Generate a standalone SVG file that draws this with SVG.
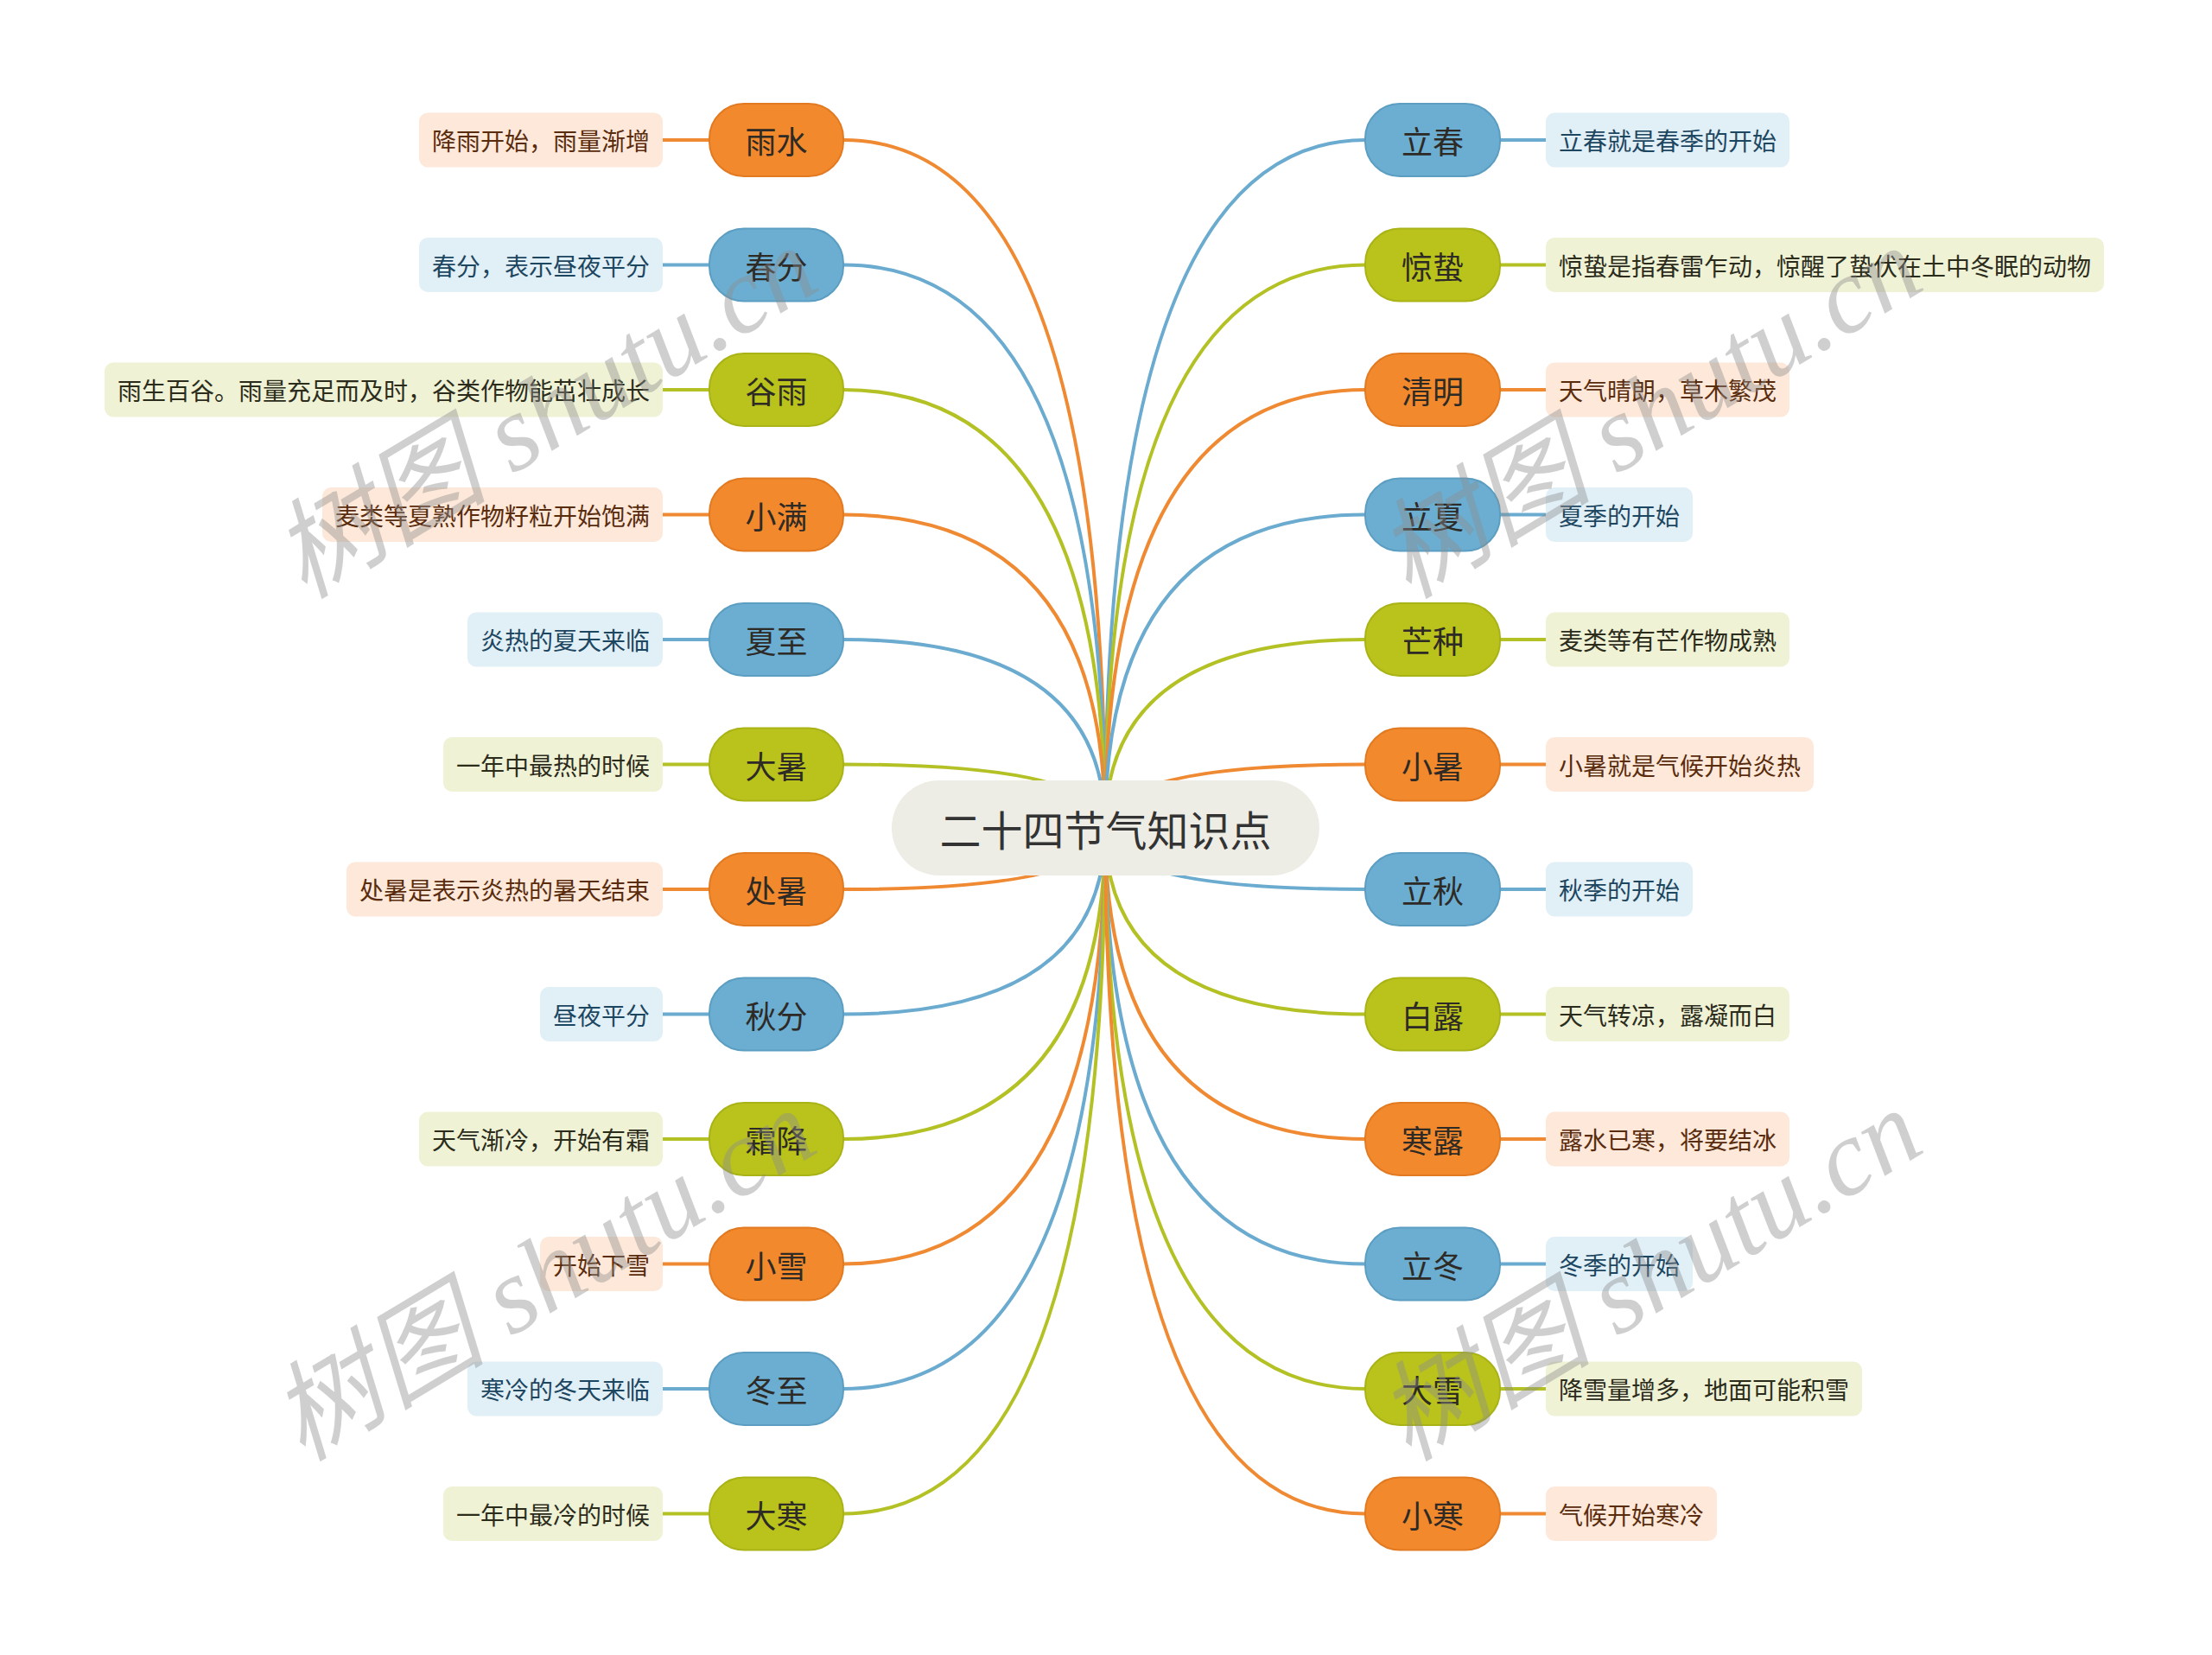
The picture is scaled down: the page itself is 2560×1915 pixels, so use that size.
<svg xmlns="http://www.w3.org/2000/svg" width="2560" height="1915" viewBox="0 0 2560 1915">
<style>
text{font-family:"Noto Sans CJK SC","Noto Sans",sans-serif;text-anchor:middle;dominant-baseline:central}
.c{fill:none;stroke-width:4}
.co{stroke:#EF8A33}.cb{stroke:#6AABCF}.cg{stroke:#B3C125}
.no{fill:#F2892C;stroke:#E27A22;stroke-width:2}
.nb{fill:#6BAED1;stroke:#5C9EC2;stroke-width:2}
.ng{fill:#B9C31C;stroke:#A9B316;stroke-width:2}
.nt{font-size:36px;fill:#2E2A26}
.lo{fill:#FDE8D9}.lb{fill:#E1EFF7}.lg{fill:#EFF2D4}
.lt{font-size:28px}
.to{fill:#5A2C0E}.tb{fill:#1D4660}.tg{fill:#2C2C1C}
.wm{font-family:"Liberation Serif","Noto Sans CJK SC",serif;font-style:italic;font-size:125px;fill:#8c8c8c;fill-opacity:0.42;text-anchor:start;dominant-baseline:alphabetic}
</style>
<rect width="2560" height="1915" fill="#ffffff"/>
<g id="connectors">
<path class="c co" d="M1279,958 Q1279,162 976,162"/>
<path class="c cb" d="M1279,958 Q1279,306.5 976,306.5"/>
<path class="c cg" d="M1279,958 Q1279,451 976,451"/>
<path class="c co" d="M1279,958 Q1279,595.5 976,595.5"/>
<path class="c cb" d="M1279,958 Q1279,740 976,740"/>
<path class="c cg" d="M1279,958 Q1279,884.5 976,884.5"/>
<path class="c co" d="M1279,958 Q1279,1029 976,1029"/>
<path class="c cb" d="M1279,958 Q1279,1173.5 976,1173.5"/>
<path class="c cg" d="M1279,958 Q1279,1318 976,1318"/>
<path class="c co" d="M1279,958 Q1279,1462.5 976,1462.5"/>
<path class="c cb" d="M1279,958 Q1279,1607 976,1607"/>
<path class="c cg" d="M1279,958 Q1279,1751.5 976,1751.5"/>
<path class="c cb" d="M1279,958 Q1279,162 1580,162"/>
<path class="c cg" d="M1279,958 Q1279,306.5 1580,306.5"/>
<path class="c co" d="M1279,958 Q1279,451 1580,451"/>
<path class="c cb" d="M1279,958 Q1279,595.5 1580,595.5"/>
<path class="c cg" d="M1279,958 Q1279,740 1580,740"/>
<path class="c co" d="M1279,958 Q1279,884.5 1580,884.5"/>
<path class="c cb" d="M1279,958 Q1279,1029 1580,1029"/>
<path class="c cg" d="M1279,958 Q1279,1173.5 1580,1173.5"/>
<path class="c co" d="M1279,958 Q1279,1318 1580,1318"/>
<path class="c cb" d="M1279,958 Q1279,1462.5 1580,1462.5"/>
<path class="c cg" d="M1279,958 Q1279,1607 1580,1607"/>
<path class="c co" d="M1279,958 Q1279,1751.5 1580,1751.5"/>
<path class="c co" d="M767,162H821"/>
<path class="c cb" d="M767,306.5H821"/>
<path class="c cg" d="M767,451H821"/>
<path class="c co" d="M767,595.5H821"/>
<path class="c cb" d="M767,740H821"/>
<path class="c cg" d="M767,884.5H821"/>
<path class="c co" d="M767,1029H821"/>
<path class="c cb" d="M767,1173.5H821"/>
<path class="c cg" d="M767,1318H821"/>
<path class="c co" d="M767,1462.5H821"/>
<path class="c cb" d="M767,1607H821"/>
<path class="c cg" d="M767,1751.5H821"/>
<path class="c cb" d="M1736,162H1789"/>
<path class="c cg" d="M1736,306.5H1789"/>
<path class="c co" d="M1736,451H1789"/>
<path class="c cb" d="M1736,595.5H1789"/>
<path class="c cg" d="M1736,740H1789"/>
<path class="c co" d="M1736,884.5H1789"/>
<path class="c cb" d="M1736,1029H1789"/>
<path class="c cg" d="M1736,1173.5H1789"/>
<path class="c co" d="M1736,1318H1789"/>
<path class="c cb" d="M1736,1462.5H1789"/>
<path class="c cg" d="M1736,1607H1789"/>
<path class="c co" d="M1736,1751.5H1789"/>
</g>
<g id="root">
<rect x="1032" y="903" width="495" height="110" rx="55" fill="#EDEDE5"/>
<text x="1279.5" y="958" font-size="48" fill="#333333">二十四节气知识点</text>
</g>
<g id="n-yushui"><rect class="no" x="821" y="120" width="155" height="84" rx="40"/><text class="nt" x="898.5" y="162">雨水</text></g>
<g id="n-chunfen"><rect class="nb" x="821" y="264.5" width="155" height="84" rx="40"/><text class="nt" x="898.5" y="306.5">春分</text></g>
<g id="n-guyu"><rect class="ng" x="821" y="409" width="155" height="84" rx="40"/><text class="nt" x="898.5" y="451">谷雨</text></g>
<g id="n-xiaoman"><rect class="no" x="821" y="553.5" width="155" height="84" rx="40"/><text class="nt" x="898.5" y="595.5">小满</text></g>
<g id="n-xiazhi"><rect class="nb" x="821" y="698" width="155" height="84" rx="40"/><text class="nt" x="898.5" y="740">夏至</text></g>
<g id="n-dashu"><rect class="ng" x="821" y="842.5" width="155" height="84" rx="40"/><text class="nt" x="898.5" y="884.5">大暑</text></g>
<g id="n-chushu"><rect class="no" x="821" y="987" width="155" height="84" rx="40"/><text class="nt" x="898.5" y="1029">处暑</text></g>
<g id="n-qiufen"><rect class="nb" x="821" y="1131.5" width="155" height="84" rx="40"/><text class="nt" x="898.5" y="1173.5">秋分</text></g>
<g id="n-shuangjiang"><rect class="ng" x="821" y="1276" width="155" height="84" rx="40"/><text class="nt" x="898.5" y="1318">霜降</text></g>
<g id="n-xiaoxue"><rect class="no" x="821" y="1420.5" width="155" height="84" rx="40"/><text class="nt" x="898.5" y="1462.5">小雪</text></g>
<g id="n-dongzhi"><rect class="nb" x="821" y="1565" width="155" height="84" rx="40"/><text class="nt" x="898.5" y="1607">冬至</text></g>
<g id="n-dahan"><rect class="ng" x="821" y="1709.5" width="155" height="84" rx="40"/><text class="nt" x="898.5" y="1751.5">大寒</text></g>
<g id="n-lichun"><rect class="nb" x="1580" y="120" width="156" height="84" rx="40"/><text class="nt" x="1658" y="162">立春</text></g>
<g id="n-jingzhe"><rect class="ng" x="1580" y="264.5" width="156" height="84" rx="40"/><text class="nt" x="1658" y="306.5">惊蛰</text></g>
<g id="n-qingming"><rect class="no" x="1580" y="409" width="156" height="84" rx="40"/><text class="nt" x="1658" y="451">清明</text></g>
<g id="n-lixia"><rect class="nb" x="1580" y="553.5" width="156" height="84" rx="40"/><text class="nt" x="1658" y="595.5">立夏</text></g>
<g id="n-mangzhong"><rect class="ng" x="1580" y="698" width="156" height="84" rx="40"/><text class="nt" x="1658" y="740">芒种</text></g>
<g id="n-xiaoshu"><rect class="no" x="1580" y="842.5" width="156" height="84" rx="40"/><text class="nt" x="1658" y="884.5">小暑</text></g>
<g id="n-liqiu"><rect class="nb" x="1580" y="987" width="156" height="84" rx="40"/><text class="nt" x="1658" y="1029">立秋</text></g>
<g id="n-bailu"><rect class="ng" x="1580" y="1131.5" width="156" height="84" rx="40"/><text class="nt" x="1658" y="1173.5">白露</text></g>
<g id="n-hanlu"><rect class="no" x="1580" y="1276" width="156" height="84" rx="40"/><text class="nt" x="1658" y="1318">寒露</text></g>
<g id="n-lidong"><rect class="nb" x="1580" y="1420.5" width="156" height="84" rx="40"/><text class="nt" x="1658" y="1462.5">立冬</text></g>
<g id="n-daxue"><rect class="ng" x="1580" y="1565" width="156" height="84" rx="40"/><text class="nt" x="1658" y="1607">大雪</text></g>
<g id="n-xiaohan"><rect class="no" x="1580" y="1709.5" width="156" height="84" rx="40"/><text class="nt" x="1658" y="1751.5">小寒</text></g>
<g id="l-yushui"><rect class="lo" x="485" y="130.5" width="282" height="63" rx="10"/><text class="lt to" x="626" y="162">降雨开始，雨量渐增</text></g>
<g id="l-chunfen"><rect class="lb" x="485" y="275" width="282" height="63" rx="10"/><text class="lt tb" x="626" y="306.5">春分，表示昼夜平分</text></g>
<g id="l-guyu"><rect class="lg" x="121" y="419.5" width="646" height="63" rx="10"/><text class="lt tg" x="444" y="451">雨生百谷。雨量充足而及时，谷类作物能茁壮成长</text></g>
<g id="l-xiaoman"><rect class="lo" x="373" y="564" width="394" height="63" rx="10"/><text class="lt to" x="570" y="595.5">麦类等夏熟作物籽粒开始饱满</text></g>
<g id="l-xiazhi"><rect class="lb" x="541" y="708.5" width="226" height="63" rx="10"/><text class="lt tb" x="654" y="740">炎热的夏天来临</text></g>
<g id="l-dashu"><rect class="lg" x="513" y="853" width="254" height="63" rx="10"/><text class="lt tg" x="640" y="884.5">一年中最热的时候</text></g>
<g id="l-chushu"><rect class="lo" x="401" y="997.5" width="366" height="63" rx="10"/><text class="lt to" x="584" y="1029">处暑是表示炎热的暑天结束</text></g>
<g id="l-qiufen"><rect class="lb" x="625" y="1142" width="142" height="63" rx="10"/><text class="lt tb" x="696" y="1173.5">昼夜平分</text></g>
<g id="l-shuangjiang"><rect class="lg" x="485" y="1286.5" width="282" height="63" rx="10"/><text class="lt tg" x="626" y="1318">天气渐冷，开始有霜</text></g>
<g id="l-xiaoxue"><rect class="lo" x="625" y="1431" width="142" height="63" rx="10"/><text class="lt to" x="696" y="1462.5">开始下雪</text></g>
<g id="l-dongzhi"><rect class="lb" x="541" y="1575.5" width="226" height="63" rx="10"/><text class="lt tb" x="654" y="1607">寒冷的冬天来临</text></g>
<g id="l-dahan"><rect class="lg" x="513" y="1720" width="254" height="63" rx="10"/><text class="lt tg" x="640" y="1751.5">一年中最冷的时候</text></g>
<g id="l-lichun"><rect class="lb" x="1789" y="130.5" width="282" height="63" rx="10"/><text class="lt tb" x="1930" y="162">立春就是春季的开始</text></g>
<g id="l-jingzhe"><rect class="lg" x="1789" y="275" width="646" height="63" rx="10"/><text class="lt tg" x="2112" y="306.5">惊蛰是指春雷乍动，惊醒了蛰伏在土中冬眠的动物</text></g>
<g id="l-qingming"><rect class="lo" x="1789" y="419.5" width="282" height="63" rx="10"/><text class="lt to" x="1930" y="451">天气晴朗，草木繁茂</text></g>
<g id="l-lixia"><rect class="lb" x="1789" y="564" width="170" height="63" rx="10"/><text class="lt tb" x="1874" y="595.5">夏季的开始</text></g>
<g id="l-mangzhong"><rect class="lg" x="1789" y="708.5" width="282" height="63" rx="10"/><text class="lt tg" x="1930" y="740">麦类等有芒作物成熟</text></g>
<g id="l-xiaoshu"><rect class="lo" x="1789" y="853" width="310" height="63" rx="10"/><text class="lt to" x="1944" y="884.5">小暑就是气候开始炎热</text></g>
<g id="l-liqiu"><rect class="lb" x="1789" y="997.5" width="170" height="63" rx="10"/><text class="lt tb" x="1874" y="1029">秋季的开始</text></g>
<g id="l-bailu"><rect class="lg" x="1789" y="1142" width="282" height="63" rx="10"/><text class="lt tg" x="1930" y="1173.5">天气转凉，露凝而白</text></g>
<g id="l-hanlu"><rect class="lo" x="1789" y="1286.5" width="282" height="63" rx="10"/><text class="lt to" x="1930" y="1318">露水已寒，将要结冰</text></g>
<g id="l-lidong"><rect class="lb" x="1789" y="1431" width="170" height="63" rx="10"/><text class="lt tb" x="1874" y="1462.5">冬季的开始</text></g>
<g id="l-daxue"><rect class="lg" x="1789" y="1575.5" width="366" height="63" rx="10"/><text class="lt tg" x="1972" y="1607">降雪量增多，地面可能积雪</text></g>
<g id="l-xiaohan"><rect class="lo" x="1789" y="1720" width="198" height="63" rx="10"/><text class="lt to" x="1888" y="1751.5">气候开始寒冷</text></g>
<g id="watermark">
<text class="wm" transform="translate(352,694) rotate(-31)">树图 shutu.cn</text>
<text class="wm" transform="translate(1630,694) rotate(-31)">树图 shutu.cn</text>
<text class="wm" transform="translate(350,1692) rotate(-31)">树图 shutu.cn</text>
<text class="wm" transform="translate(1630,1692) rotate(-31)">树图 shutu.cn</text>
</g>
</svg>
